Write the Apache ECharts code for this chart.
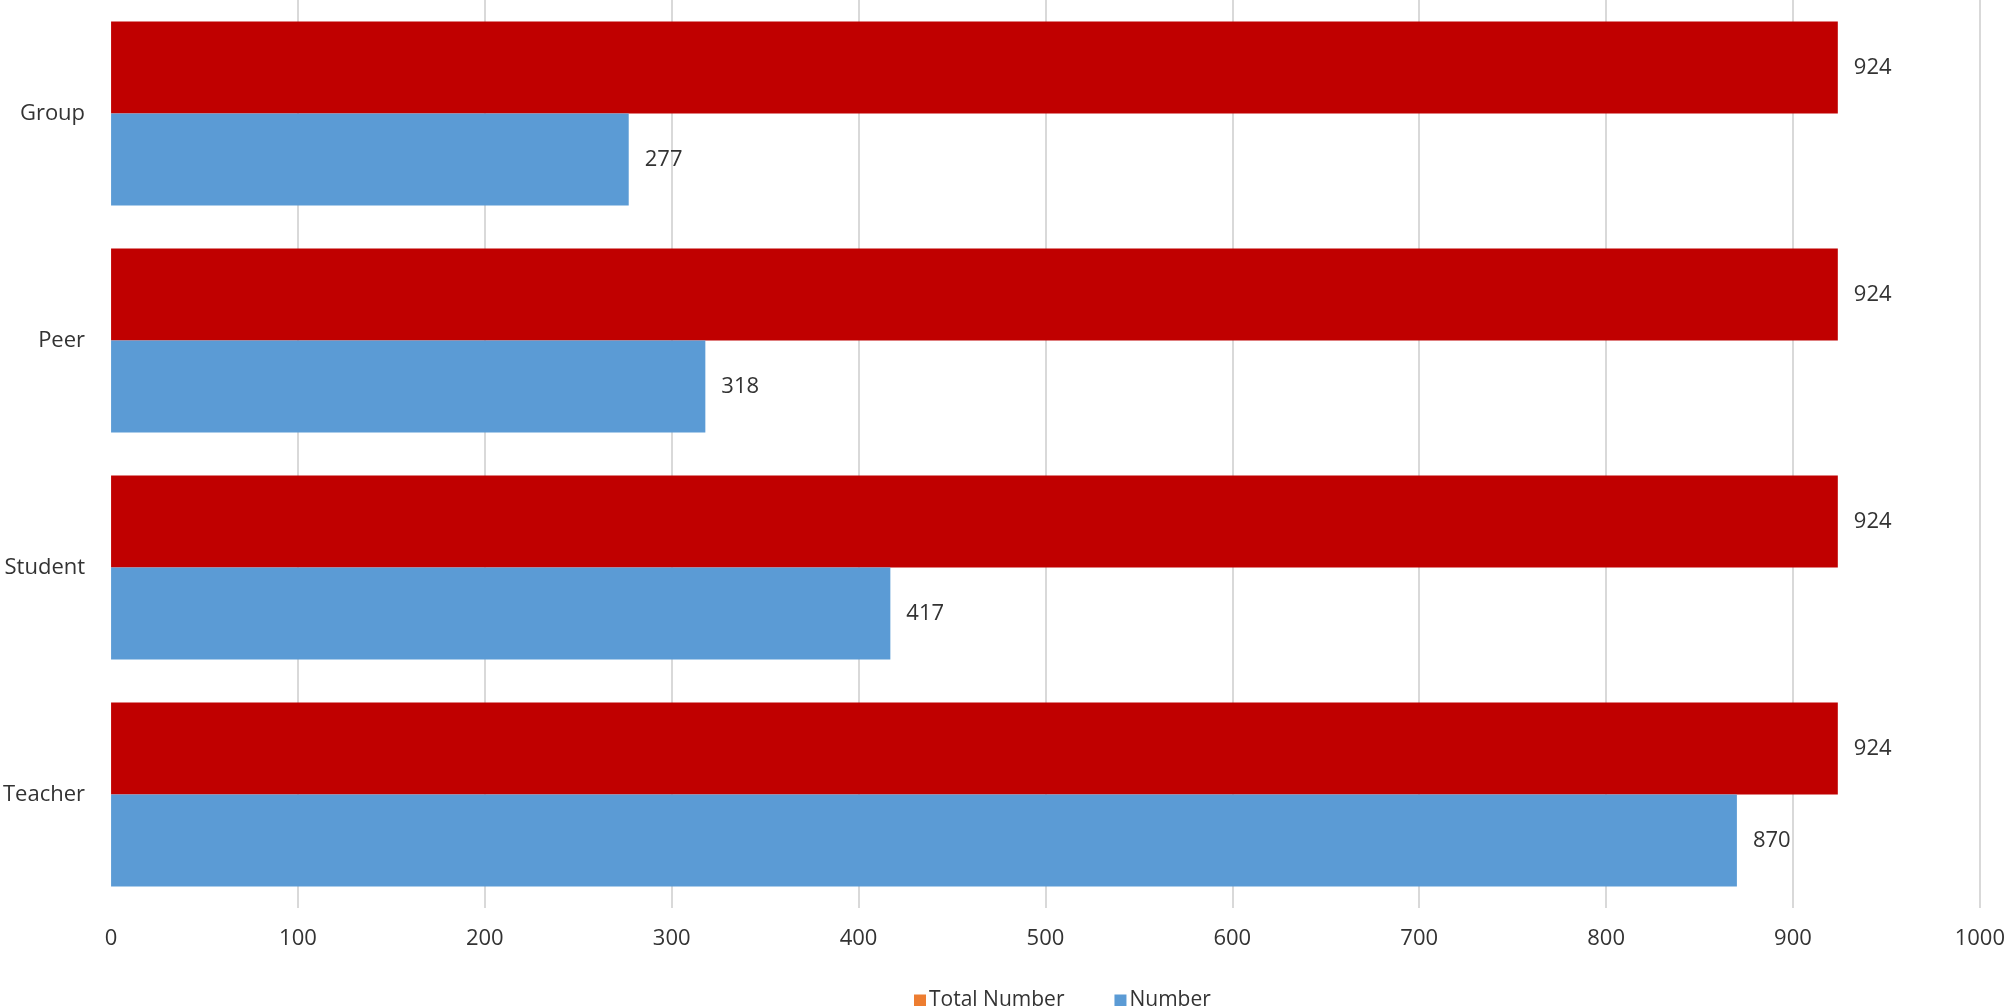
<!DOCTYPE html>
<html>
<head>
<meta charset="utf-8">
<title>Feedback source</title>
<script src="https://cdn.jsdelivr.net/npm/echarts@6/dist/echarts.min.js"></script>
<style>
	html, body { margin: 0; padding: 0; background: #fff; }
	#chart { width: 2008px; height: 1006px; }
</style>
</head>
<body>
<div id="chart"></div>
<script>
	// categories listed bottom to top
	var categories = ['Teacher', 'Student', 'Peer', 'Group'];
	var totalNumber = [924, 924, 924, 924];
	var number = [870, 417, 318, 277];
	var xTicks = [0, 100, 200, 300, 400, 500, 600, 700, 800, 900, 1000];

	var fontFamily = '"Open Sans", "Noto Sans", sans-serif';
	var textColor = '#333333';

	var chart = echarts.init(document.getElementById('chart'));

	// red bars, but legend keeps the orange swatch like the original
	var totalData = totalNumber.map(function(v) {
		return { value: v, itemStyle: { color: '#C00000' } };
	});

	chart.setOption({
		animation: false,
		grid: {
			left: 111,
			right: 26,
			top: 0,
			bottom: 98,
			containLabel: false
		},
		legend: {
			data: ['Total Number', 'Number'],
			left: 909,
			top: 985,
			itemWidth: 12,
			itemHeight: 12,
			itemGap: 50,
			icon: 'rect',
			textStyle: { fontFamily: fontFamily, fontSize: 21, color: textColor, padding: [0, 0, 0, -2] }
		},
		xAxis: {
			type: 'value',
			min: xTicks[0],
			max: xTicks[xTicks.length - 1],
			interval: 100,
			axisLine: { show: false },
			axisTick: { show: false },
			axisLabel: {
				fontFamily: fontFamily, fontSize: 22, color: textColor, margin: 20,
				formatter: function(v) { return String(v); }
			},
			splitLine: { show: true, showMinLine: false, lineStyle: { color: '#D9D9D9', width: 2 } }
		},
		yAxis: {
			type: 'category',
			data: categories,
			axisLine: { show: false },
			axisTick: { show: false },
			axisLabel: { fontFamily: fontFamily, fontSize: 22, color: textColor, margin: 26 }
		},
		series: [
			{
				name: 'Total Number',
				type: 'bar',
				data: totalData,
				barWidth: 92,
				barGap: '0%',
				itemStyle: { color: '#ED7D31' },
				label: {
					show: true,
					position: 'right',
					distance: 16,
					fontFamily: fontFamily,
					fontSize: 22,
					color: textColor
				}
			},
			{
				name: 'Number',
				type: 'bar',
				data: number,
				barWidth: 92,
				barGap: '0%',
				itemStyle: { color: '#5B9BD5' },
				label: {
					show: true,
					position: 'right',
					distance: 16,
					fontFamily: fontFamily,
					fontSize: 22,
					color: textColor
				}
			}
		]
	});
</script>
</body>
</html>
